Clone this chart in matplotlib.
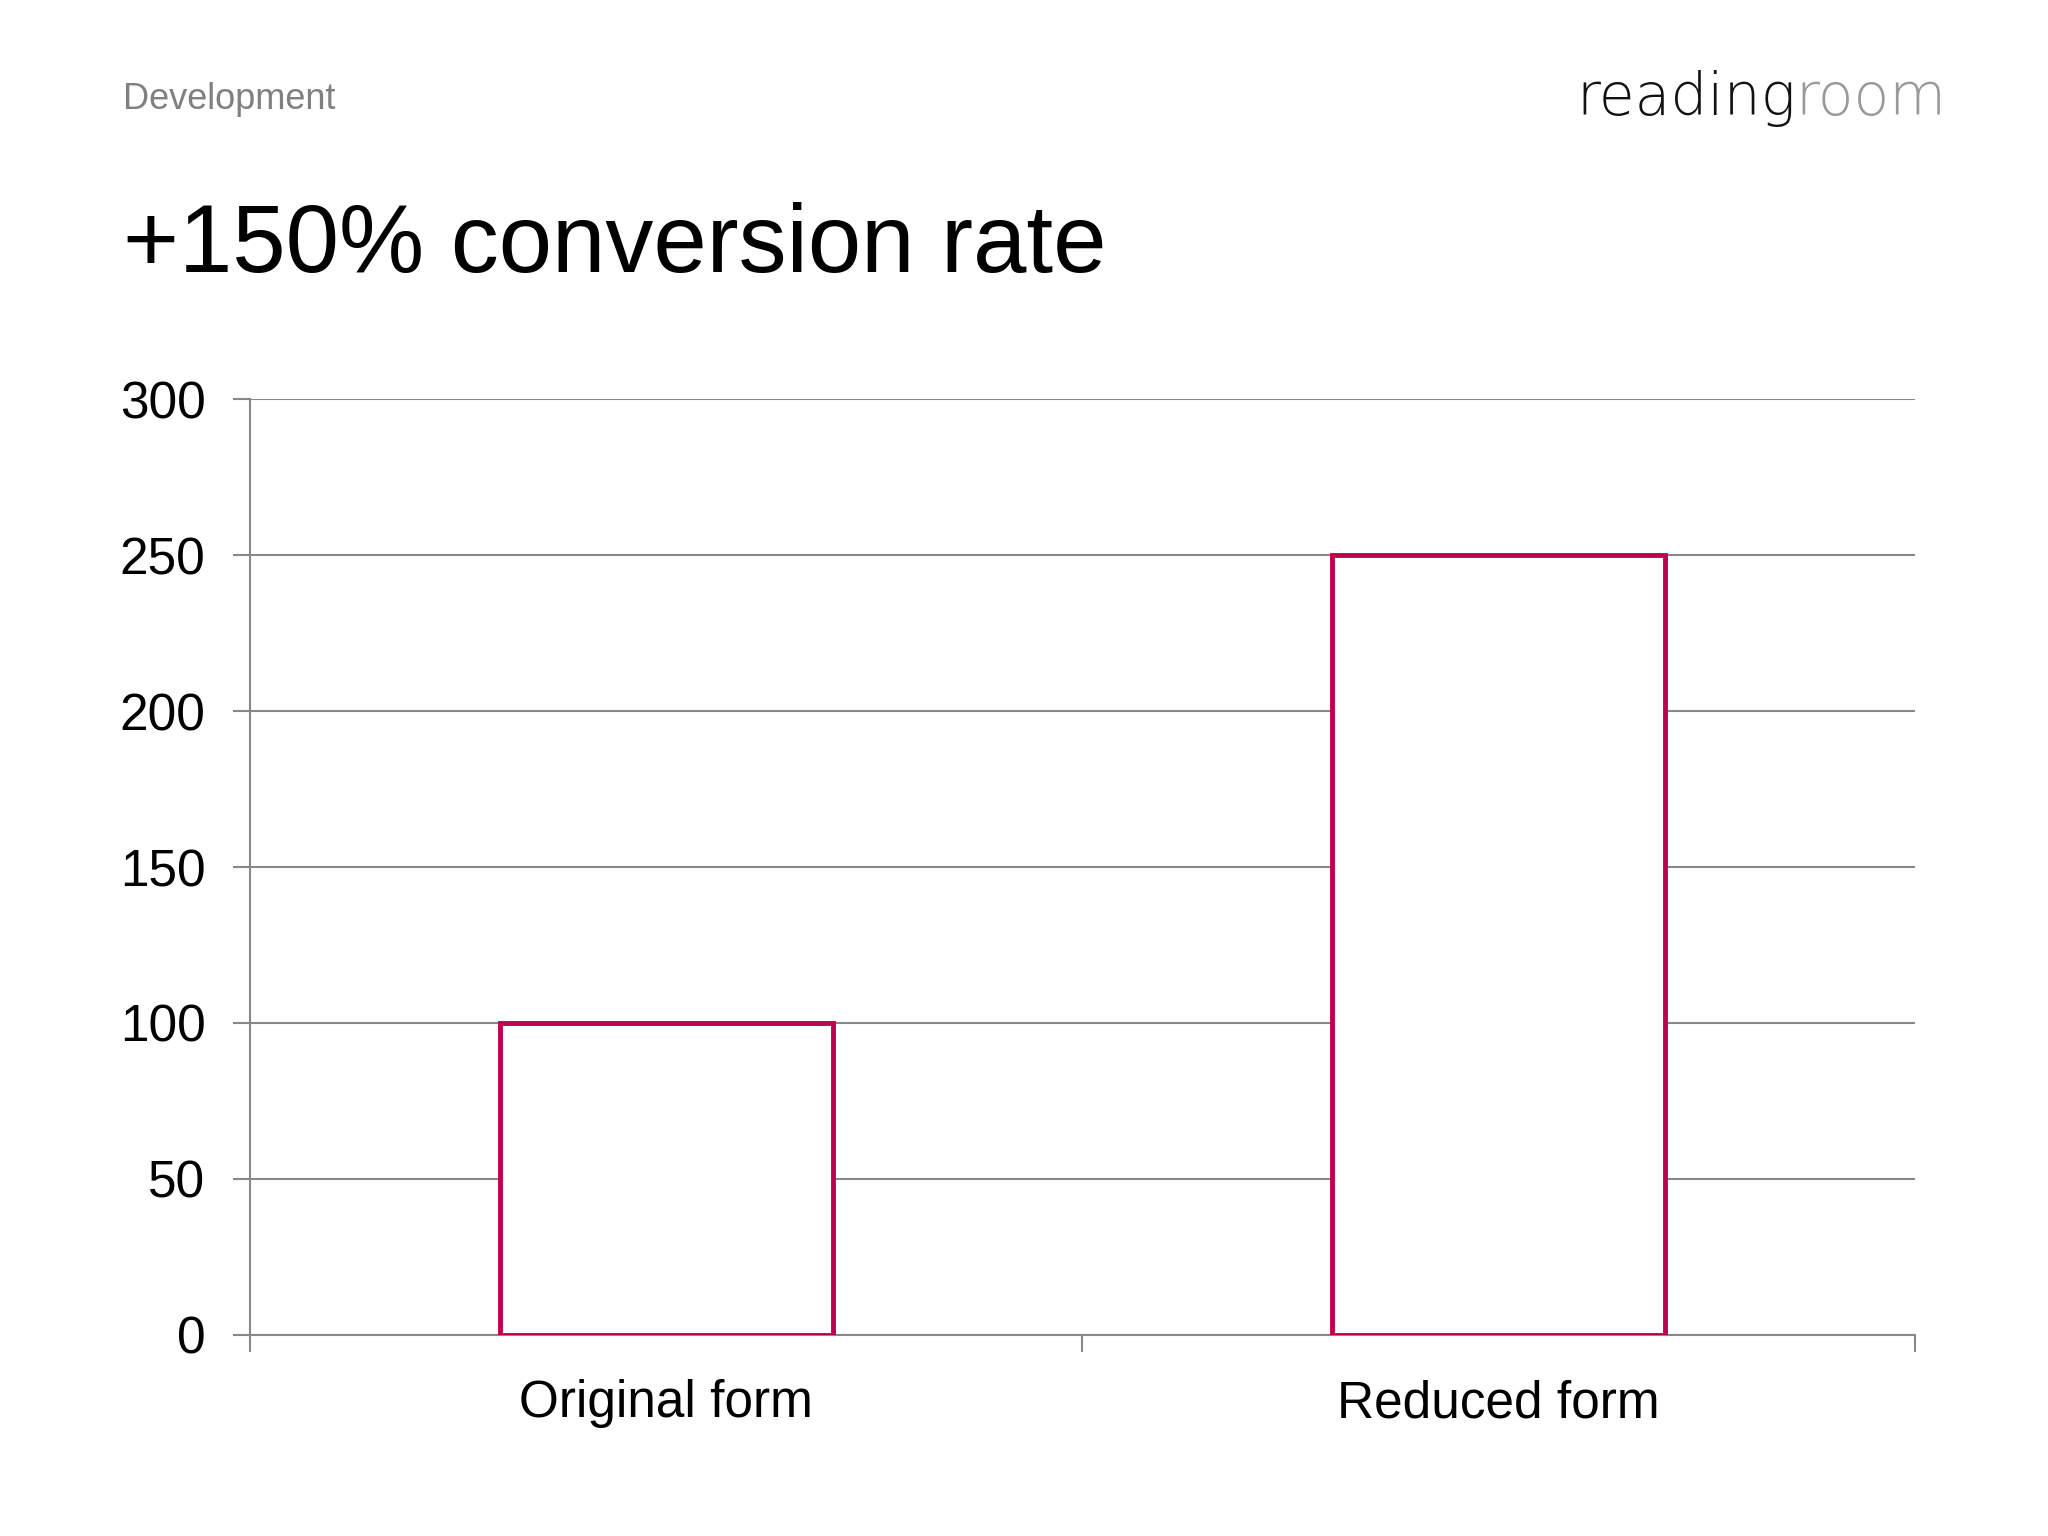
import matplotlib
matplotlib.use("Agg")
import matplotlib.pyplot as plt

categories = ["Original form", "Reduced form"]
values = [100, 250]
yticks = [0, 50, 100, 150, 200, 250, 300]

plt.rcParams['font.family'] = ['Liberation Sans', 'DejaVu Sans']
fig = plt.figure(figsize=(20.48, 15.36), dpi=100)
ax = fig.add_axes([0.122, 0.131, 0.813, 0.609])

x = list(range(len(categories)))
ax.bar(x, values, width=0.4, facecolor='white', edgecolor='#C0004E', linewidth=3.5, zorder=3)
ax.set_xlim(-0.5, 1.5)
ax.set_ylim(0, 300)
ax.set_yticks(yticks)
ax.set_yticklabels([str(v) for v in yticks], fontsize=37)
ax.yaxis.grid(True, color='#888888', linewidth=1.5, zorder=0)
ax.set_xticks(x)
ax.set_xticklabels(categories, fontsize=37)
ax.set_xticks([-0.5, 0.5, 1.5], minor=True)
ax.tick_params(axis='x', which='major', length=0, pad=32)
ax.tick_params(axis='x', which='minor', length=12, color='#888888', width=1.5)
ax.tick_params(axis='y', length=12, color='#888888', width=1.5, pad=20, direction='out')
for s in ['top', 'right']:
    ax.spines[s].set_visible(False)
for s in ['left', 'bottom']:
    ax.spines[s].set_color('#888888')
    ax.spines[s].set_linewidth(1.5)

fig.text(0.060, 0.935, "Development", fontsize=26, color='#808080', va='center')
fig.text(0.060, 0.839, "+150% conversion rate", fontsize=69, color='black', va='center')
t = fig.text(0.7695, 0.936, "reading", fontsize=42, color='#111111', va='center', family='DejaVu Sans', fontweight='light')
fig.canvas.draw()
bb = t.get_window_extent()
fig.text(bb.x1 / fig.bbox.width, 0.936, "room", fontsize=42, color='#999999', va='center', family='DejaVu Sans', fontweight='light')

fig.savefig("out.png", dpi=100, facecolor='white')
